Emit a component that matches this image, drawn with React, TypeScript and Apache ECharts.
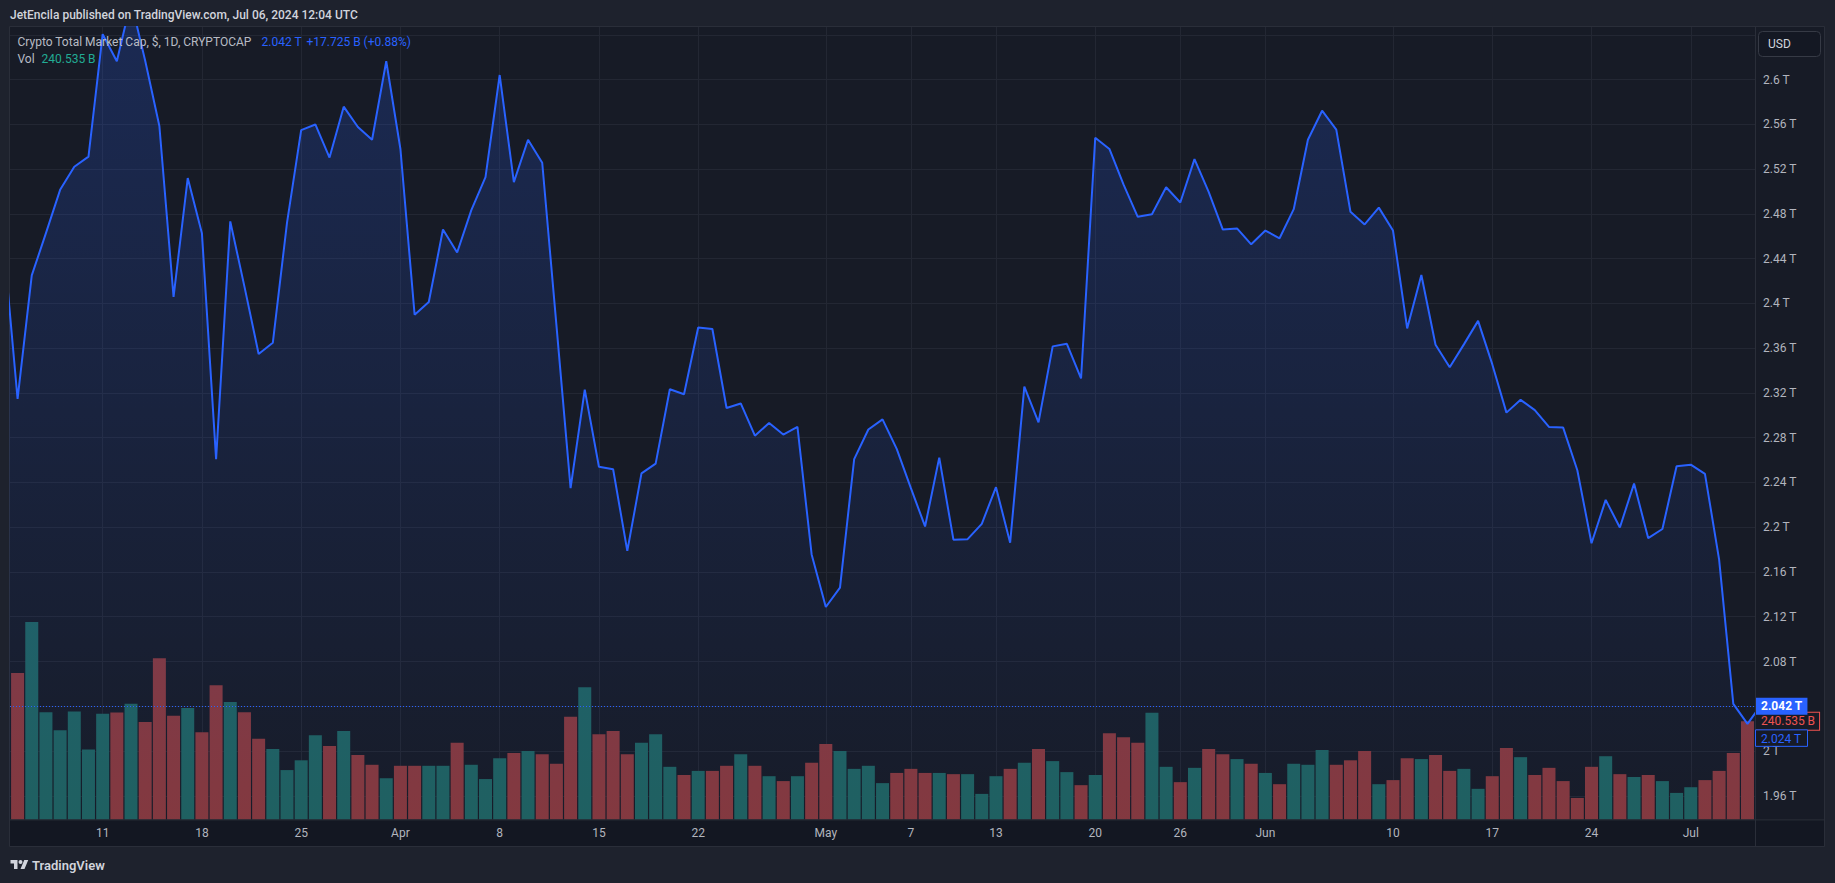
import React, { useEffect, useRef } from 'react';
import * as echarts from 'echarts';

// Daily closes in trillions USD; day 0 = 2024-03-04 … day 124 = 2024-07-06
const CLOSE_T = [
  2.456, 2.3146, 2.425, 2.4628, 2.5015, 2.5221, 2.5312, 2.6406, 2.6164, 2.67,
  2.6169, 2.5585, 2.4058, 2.512, 2.4628, 2.2609, 2.4733, 2.415, 2.3548, 2.3648,
  2.4719, 2.5549, 2.5599, 2.5303, 2.5758, 2.5576, 2.5462, 2.6164, 2.538, 2.3899,
  2.4013, 2.466, 2.4455, 2.4833, 2.5129, 2.6041, 2.5084, 2.5462, 2.5257, 2.3808,
  2.2349, 2.3229, 2.254, 2.2518, 2.1788, 2.2481, 2.2568, 2.3233, 2.3188, 2.3785,
  2.3771, 2.3065, 2.3106, 2.2818, 2.2932, 2.2828, 2.2896, 2.1757, 2.1287, 2.146,
  2.2609, 2.2873, 2.2964, 2.27, 2.2349, 2.2007, 2.2622, 2.1889, 2.1893, 2.203,
  2.2358, 2.1861, 2.3256, 2.2937, 2.3616, 2.3639, 2.3329, 2.548, 2.538, 2.5061,
  2.4774, 2.4797, 2.5038, 2.4902, 2.5289, 2.4997, 2.466, 2.467, 2.4528, 2.4651,
  2.4582, 2.4842, 2.5462, 2.5722, 2.5553, 2.4819, 2.4706, 2.4856, 2.4651, 2.3776,
  2.4254, 2.363, 2.3429, 2.3634, 2.3844, 2.3457, 2.3024, 2.3138, 2.3046, 2.2896,
  2.289, 2.2509, 2.1857, 2.2244, 2.1998, 2.239, 2.1902, 2.1984, 2.2545, 2.2559,
  2.2477, 2.1711, 2.0421, 2.0243, 2.042,
];

// Daily volume in billions USD, same days
const VOLUME_B = [
  215, 359, 484.5, 263, 219, 265, 171.5, 259, 262, 284,
  239, 395.6, 254, 273, 214, 329, 288, 263, 198, 173,
  121, 145, 206.6, 180, 216.6, 157.8, 134, 101, 131.5, 131.5,
  131.5, 131.5, 188, 134, 99, 150, 163, 168, 160, 136.5,
  251.6, 324, 209, 216.6, 160, 188, 209, 129, 109, 119,
  119, 131.5, 160, 131.5, 106, 94, 106, 139, 185, 168,
  124, 131.5, 89, 114, 124, 114, 114, 111, 111, 62.6,
  106, 124, 139, 173, 143, 116, 84, 109, 211.6, 201.6,
  188, 261.7, 129, 91.4, 126.5, 173, 160, 148, 136.5, 114,
  86.4, 136.5, 134, 170, 134, 145, 168, 86.4, 96.4, 150,
  148, 158, 119, 124, 75, 106, 175, 152.7, 109, 126.5,
  94, 52.6, 129, 155, 111, 104, 109, 94, 65, 79,
  96.4, 119, 163, 240.5, 240.535,
];

const X_TICK_DAYS = [7, 14, 21, 28, 35, 42, 49, 58, 64, 70, 77, 83, 89, 98, 105, 112, 119];
const X_TICK_LABELS = ['11', '18', '25', 'Apr', '8', '15', '22', 'May', '7', '13', '20', '26', 'Jun', '10', '17', '24', 'Jul'];

const PRICE_GRID_T = [1.96, 2, 2.04, 2.08, 2.12, 2.16, 2.2, 2.24, 2.28, 2.32, 2.36, 2.4, 2.44, 2.48, 2.52, 2.56, 2.6, 2.64];
const PRICE_LABEL_T = [1.96, 2, 2.08, 2.12, 2.16, 2.2, 2.24, 2.28, 2.32, 2.36, 2.4, 2.44, 2.48, 2.52, 2.56, 2.6];

const LAST_PRICE_T = 2.042;
const PREV_CLOSE_T = 2.024;
const LAST_VOLUME_B = 240.535;

const X_VIEW = [0.4654, 123.53];
const PRICE_VIEW = [1.9389, 2.647];
const VOLUME_VIEW = [0, 1944];

const HEADER = 'JetEncila published on TradingView.com, Jul 06, 2024 12:04 UTC';
const LEGEND_TITLE = 'Crypto Total Market Cap, $, 1D, CRYPTOCAP';
const LEGEND_PRICE = '2.042 T';
const LEGEND_CHANGE = '+17.725 B (+0.88%)';
const LEGEND_VOL_NAME = 'Vol';
const LEGEND_VOL = '240.535 B';

const FONT = 'Roboto, "Noto Sans", "DejaVu Sans", sans-serif';
const BLUE = '#2962ff';
const UP = '#1f605f';
const DOWN = '#84383d';
const PLOT_BG = '#171b26';
const OUTER_BG = '#1e222d';
const BORDER = '#2a2e39';
const GRID_LINE = '#232733';
const AXIS_TEXT = '#b2b5be';

const TV_LOGO_PATH = 'M14 22H7V11H0V4h14v18zM28 22h-8l7.5-18h8L28 22zM24 8a4 4 0 1 1-8 0 4 4 0 0 1 8 0z';
let logoRegistered = false;
function registerLogo() {
  if (logoRegistered) return;
  echarts.graphic.registerShape('tvlogo', echarts.graphic.extendPath(TV_LOGO_PATH, {}));
  logoRegistered = true;
}

function prevCloseTag(top: number, visible: boolean) {
  return {
    type: 'group',
    id: 'prevCloseTag',
    z: 120,
    silent: true,
    invisible: !visible,
    children: [
      {
        type: 'rect',
        id: 'prevCloseTagBox',
        z: 120,
        shape: { x: 1755.5, y: top, width: 52, height: 16.5 },
        style: { fill: PLOT_BG, stroke: BLUE, lineWidth: 1 },
      },
      {
        type: 'text',
        id: 'prevCloseTagText',
        z: 121,
        x: 1761,
        y: top + 8.7,
        style: {
          text: `${PREV_CLOSE_T} T`,
          fill: BLUE,
          font: `12px ${FONT}`,
          verticalAlign: 'middle',
          align: 'left',
        },
      },
    ],
  };
}

export default function App() {
  const ref = useRef<HTMLDivElement>(null);

  useEffect(() => {
    registerLogo();
    const el = ref.current as HTMLDivElement;
    const chart = echarts.init(el, null, { renderer: 'svg' });

    const lineData = CLOSE_T.map((v, i) => [i, v]);
    // only the days whose bar lies inside the visible time window
    const volData = VOLUME_B.map((v, i) => ({
      value: [i, v],
      itemStyle: { color: i === 0 || CLOSE_T[i] >= CLOSE_T[i - 1] ? UP : DOWN },
    })).filter((d) => d.value[0] >= Math.ceil(X_VIEW[0]) && d.value[0] <= Math.floor(X_VIEW[1]));

    const labelMap: Record<number, string> = {};
    X_TICK_DAYS.forEach((d, i) => (labelMap[d] = X_TICK_LABELS[i]));

    let n = 0;
    const txt = (x: number, y: number, text: string, fill: string, font: string) => ({
      type: 'text',
      id: `t${n++}`,
      x,
      y,
      z: 100,
      silent: true,
      style: { text, fill, font, verticalAlign: 'middle', align: 'left' },
    });

    const option: any = {
      animation: false,
      backgroundColor: OUTER_BG,
      textStyle: { fontFamily: FONT },
      grid: {
        left: 10,
        top: 27,
        width: 1745,
        height: 792.4,
        show: false,
        outerBoundsMode: 'none',
      },
      xAxis: {
        type: 'value',
        min: X_VIEW[0],
        max: X_VIEW[1],
        axisLine: { show: false },
        axisTick: { show: false, customValues: X_TICK_DAYS },
        axisLabel: {
          customValues: X_TICK_DAYS,
          formatter: (v: number) => labelMap[Math.round(v)] ?? '',
          color: AXIS_TEXT,
          fontSize: 12,
          fontFamily: FONT,
          margin: 8,
        },
        splitLine: { show: true, lineStyle: { color: GRID_LINE, width: 1 } },
      },
      yAxis: [
        {
          type: 'value',
          position: 'right',
          min: PRICE_VIEW[0],
          max: PRICE_VIEW[1],
          axisLine: { show: false },
          axisTick: { show: false, customValues: PRICE_GRID_T },
          axisLabel: {
            customValues: PRICE_LABEL_T,
            formatter: (v: number) => `${v} T`,
            color: AXIS_TEXT,
            fontSize: 12,
            fontFamily: FONT,
            margin: 8,
          },
          splitLine: { show: true, lineStyle: { color: GRID_LINE, width: 1 } },
        },
        {
          type: 'value',
          min: VOLUME_VIEW[0],
          max: VOLUME_VIEW[1],
          show: false,
          splitLine: { show: false },
        },
      ],
      series: [
        {
          type: 'bar',
          name: 'Vol',
          xAxisIndex: 0,
          yAxisIndex: 1,
          data: volData,
          barWidth: 13,
          clip: true,
          z: 2,
          silent: true,
          markLine: {
            silent: true,
            symbol: ['none', 'none'],
            lineStyle: { width: 0, color: 'rgba(0,0,0,0)', type: 'solid' },
            label: {
              show: true,
              position: 'end',
              distance: 1,
              formatter: '240.535 B',
              color: '#ef5350',
              backgroundColor: PLOT_BG,
              borderColor: '#ef5350',
              borderWidth: 1,
              padding: [3, 4, 2, 5],
              fontSize: 12,
              fontFamily: FONT,
            },
            data: [{ yAxis: LAST_VOLUME_B }],
          },
        },
        {
          type: 'line',
          name: 'Crypto Total Market Cap',
          xAxisIndex: 0,
          yAxisIndex: 0,
          data: lineData,
          showSymbol: false,
          clip: true,
          z: 3,
          silent: true,
          lineStyle: { color: BLUE, width: 2 },
          areaStyle: {
            color: new echarts.graphic.LinearGradient(0, 0, 0, 1, [
              { offset: 0, color: 'rgba(41,98,255,0.30)' },
              { offset: 1, color: 'rgba(41,98,255,0.02)' },
            ]),
          },
          markLine: {
            silent: true,
            symbol: ['none', 'none'],
            lineStyle: { color: BLUE, type: [1, 2], width: 1 },
            label: {
              show: true,
              position: 'end',
              distance: 1,
              formatter: '2.042 T',
              color: '#ffffff',
              backgroundColor: BLUE,
              fontWeight: 'bold',
              padding: [3, 5, 2, 5],
              fontSize: 12,
              fontFamily: FONT,
            },
            data: [{ yAxis: LAST_PRICE_T }],
          },
        },
      ],
      graphic: {
        elements: [
          {
            type: 'rect',
            id: 'panel',
            z: -100,
            silent: true,
            shape: { x: 9.5, y: 26.5, width: 1815, height: 820 },
            style: { fill: PLOT_BG, stroke: BORDER, lineWidth: 1 },
          },
          {
            type: 'rect',
            id: 'timeStrip',
            z: -99,
            silent: true,
            shape: { x: 10, y: 820, width: 1814, height: 26 },
            style: { fill: '#131722' },
          },
          {
            type: 'line',
            id: 'scaleSep',
            z: 50,
            silent: true,
            shape: { x1: 1755.5, y1: 27, x2: 1755.5, y2: 846 },
            style: { stroke: BORDER, lineWidth: 1 },
          },
          {
            type: 'line',
            id: 'timeSep',
            z: 50,
            silent: true,
            shape: { x1: 10, y1: 819.9, x2: 1824, y2: 819.9 },
            style: { stroke: BORDER, lineWidth: 1 },
          },
          txt(10, 15, HEADER, '#d1d4dc', `500 12px ${FONT}`),
          txt(17.5, 42, LEGEND_TITLE, '#b8bbc4', `12px ${FONT}`),
          txt(261.5, 42, LEGEND_PRICE, BLUE, `12px ${FONT}`),
          txt(306.5, 42, LEGEND_CHANGE, BLUE, `12px ${FONT}`),
          txt(17.5, 58.5, LEGEND_VOL_NAME, '#b8bbc4', `12px ${FONT}`),
          txt(41.5, 58.5, LEGEND_VOL, '#22ab94', `12px ${FONT}`),
          {
            type: 'rect',
            id: 'usdBox',
            z: 100,
            silent: true,
            shape: { x: 1758.5, y: 31.5, width: 62, height: 25, r: 4 },
            style: { fill: '#141823', stroke: '#363a45', lineWidth: 1 },
          },
          txt(1768, 44, 'USD', '#d1d4dc', `12px ${FONT}`),
          {
            type: 'tvlogo',
            id: 'tvlogo',
            z: 100,
            silent: true,
            x: 10.5,
            y: 858,
            scaleX: 0.5,
            scaleY: 0.5,
            style: { fill: '#d1d4dc' },
          },
          txt(32, 865.5, 'TradingView', '#d1d4dc', `600 13px ${FONT}`),
          prevCloseTag(0, false),
        ],
      },
    };

    chart.setOption(option);

    // tag for the previous close, pushed just below the volume tag on the price scale
    const yVol = chart.convertToPixel({ yAxisIndex: 1 }, LAST_VOLUME_B) as number;
    chart.setOption({ graphic: { elements: [prevCloseTag(yVol + 8.5, true)] } });

    return () => chart.dispose();
  }, []);

  return (
    <div
      ref={ref}
      style={{ position: 'fixed', left: 0, top: 0, width: 1835, height: 883 }}
    />
  );
}
